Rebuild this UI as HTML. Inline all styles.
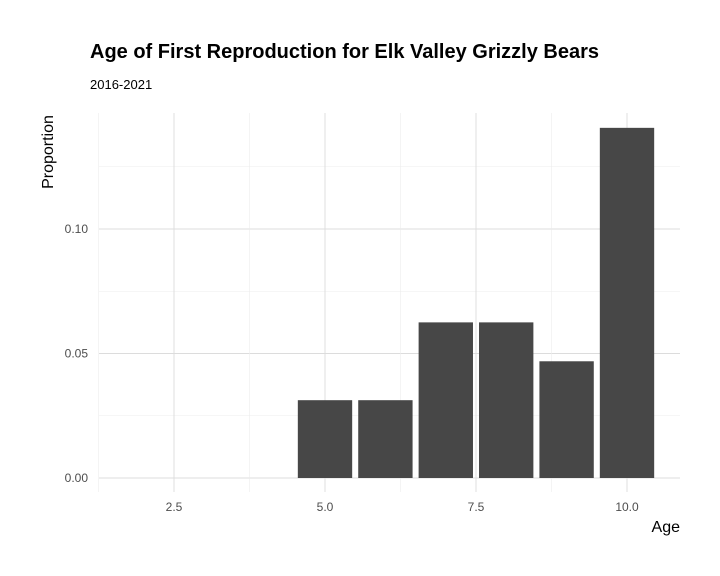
<!DOCTYPE html>
<html><head><meta charset="utf-8"><style>
body{margin:0;background:#fff;}
svg{display:block;font-family:"Liberation Sans",sans-serif;}
</style></head><body>
<svg id="chart" width="720" height="576">
<text x="90" y="58" font-size="20" font-weight="bold" fill="#000">Age of First Reproduction for Elk Valley Grizzly Bears</text>
<text x="90" y="89" font-size="13" fill="#000">2016-2021</text>
<text transform="translate(53,152) rotate(-90)" text-anchor="middle" font-size="16" fill="#000">Proportion</text>
<text x="680" y="532" text-anchor="end" font-size="16" fill="#000">Age</text>
<g id="grid"></g><g id="bars"></g><g id="ticks"></g>
</svg>
<script>
const ages=[5,6,7,8,9,10];
const proportions=[0.03125,0.03125,0.0625,0.0625,0.046875,0.140625];
const xTicks=[2.5,5.0,7.5,10.0];
const yTicks=[0.00,0.05,0.10];
const NS="http://www.w3.org/2000/svg";
const X=v=>174+(v-2.5)*60.4;
const Y=v=>478-v*2490;
const L=99,R=680,T=113,B=492;
function mk(tag,attrs,parent){const e=document.createElementNS(NS,tag);for(const k in attrs)e.setAttribute(k,attrs[k]);parent.appendChild(e);return e;}
const grid=document.getElementById('grid'),bars=document.getElementById('bars'),ticks=document.getElementById('ticks');
for(let i=0;i<yTicks.length;i++){
 const y=Y(yTicks[i]);
 let g=mk('line',{x1:L,x2:R,y1:y,y2:y,stroke:'#dcdcdc','stroke-width':0.9},grid);
 
 
 const ym=Y(yTicks[i]+0.025);
 let m=mk('line',{x1:L,x2:R,y1:ym,y2:ym,stroke:'#ececec','stroke-width':0.6},grid);
 
 
 let t=mk('text',{x:88,y:y+4,'text-anchor':'end','font-size':12,fill:'#4d4d4d'},ticks);
 t.textContent=yTicks[i].toFixed(2);
 
 
}
for(let i=0;i<xTicks.length;i++){
 const x=X(xTicks[i]);
 let g=mk('line',{x1:x,x2:x,y1:T,y2:B,stroke:'#dcdcdc','stroke-width':0.9},grid);
 
 
 const xm=X(xTicks[i]-1.25);
 let m=mk('line',{x1:xm,x2:xm,y1:T,y2:B,stroke:'#ececec','stroke-width':0.6},grid);
 
 
 let t=mk('text',{x:x,y:511,'text-anchor':'middle','font-size':12,fill:'#4d4d4d'},ticks);
 t.textContent=xTicks[i].toFixed(1);
 
 
}
for(let i=0;i<ages.length;i++){
 const w=0.9*60.4;
 let b=mk('rect',{x:X(ages[i])-w/2,y:Y(proportions[i]),width:w,height:Y(0)-Y(proportions[i]),fill:'#474747'},bars);
 
 
}
</script>
</body></html>
